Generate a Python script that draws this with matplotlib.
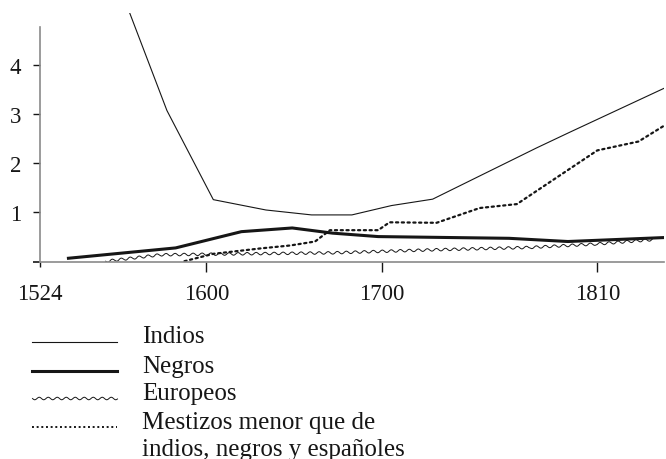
#######################################################
# imports

import numpy as np
import matplotlib
matplotlib.use('Agg')
import matplotlib.pyplot as plt
from matplotlib.lines import Line2D

#######################################################
# data (years, relative values)

indios_year = [1565, 1582, 1604, 1634, 1660, 1683, 1705, 1726, 1753, 1779, 1796, 1844]
indios_val = [5.05, 3.07, 1.26, 1.05, 0.95, 0.95, 1.14, 1.27, 1.80, 2.31, 2.63, 3.52]

negros_year = [1537, 1586, 1620, 1649, 1672, 1698, 1765, 1795, 1844]
negros_val = [0.07, 0.28, 0.61, 0.685, 0.58, 0.51, 0.475, 0.41, 0.49]

europeos_year = [1554, 1579, 1620, 1672, 1725, 1776, 1810, 1839]
europeos_val = [0.01, 0.14, 0.16, 0.18, 0.24, 0.29, 0.36, 0.45]

mestizos_year = [1590, 1604, 1631, 1648, 1662, 1670.5, 1698, 1704, 1728, 1750, 1769, 1810, 1831, 1844]
mestizos_val = [0.01, 0.16, 0.27, 0.33, 0.41, 0.64, 0.64, 0.80, 0.79, 1.09, 1.17, 2.26, 2.44, 2.76]

x_ticks = [1524, 1600, 1700, 1810]
y_ticks = [0, 1, 2, 3, 4]
y_ticklabels = ['', '1', '2', '3', '4']

legend_labels = ['Indios', 'Negros', 'Europeos',
                 'Mestizos menor que de\nindios, negros y españoles']

#######################################################
# the time axis of the original is not evenly spaced

knot_year = np.array([1400.0, 1524.0, 1600.0, 1700.0, 1810.0, 1900.0])
knot_pos = np.array([-231.3, 40.0, 206.3, 381.7, 597.3, 773.7])

def forward(x):
    return np.interp(x, knot_year, knot_pos)

def inverse(p):
    return np.interp(p, knot_pos, knot_year)

#######################################################
# plot

plt.rcParams['font.family'] = ['Liberation Serif', 'DejaVu Serif']
ink = '#161616'
axis_gray = '#8a8a8a'

fig = plt.figure(figsize=(6.66, 4.60), dpi=100)
ax = fig.add_axes([40/666, (460-262.7)/460, 624/666, (262.7-14)/460])
ax.set_xscale('function', functions=(forward, inverse))

ax.plot(indios_year, indios_val, color=ink, linewidth=0.8)
ax.plot(negros_year, negros_val, color=ink, linewidth=2.2)
eu, = ax.plot(europeos_year, europeos_val, color=ink, linewidth=0.7)
eu.set_sketch_params(scale=1.3, length=9, randomness=1)
ax.plot(mestizos_year, mestizos_val, color=ink, linewidth=1.6,
        linestyle=(0, (1, 1.6)), dash_capstyle='round')

ax.set_xlim(1524, inverse(664))
ax.set_ylim(0, 5.05)

for side in ['top', 'right']:
    ax.spines[side].set_visible(False)
for side in ['left', 'bottom']:
    ax.spines[side].set_color(axis_gray)
    ax.spines[side].set_linewidth(1.2)
ax.spines['left'].set_bounds(0, 4.77)

ax.set_xticks(x_ticks)
ax.set_xticklabels([str(v) for v in x_ticks])
ax.set_yticks(y_ticks)
ax.set_yticklabels(y_ticklabels)
ax.xaxis.set_minor_locator(matplotlib.ticker.NullLocator())

ax.tick_params(axis='x', direction='out', length=7.5, width=1.0, color=ink,
               labelsize=16.5, labelcolor=ink, pad=7.5)
ax.tick_params(axis='y', direction='out', length=5, width=1.0, color=ink,
               labelsize=16.5, labelcolor=ink, pad=8.5)
ax.xaxis.get_major_ticks()[0].tick1line.set_markersize(3.5)
ax.yaxis.get_major_ticks()[0].tick1line.set_color(axis_gray)
ax.yaxis.get_major_ticks()[0].tick1line.set_markeredgewidth(1.2)

#######################################################
# legend drawn by hand, the handle sits on the first line of text

rows_y = [343.3, 371.7, 399.3, 428.3]
base_y = [343.3, 372.7, 400.0, 430.0]
styles = [dict(linewidth=0.8), dict(linewidth=2.2), dict(linewidth=0.7),
          dict(linewidth=1.4, linestyle=(0, (1, 1.4)))]
for i, (lab, st) in enumerate(zip(legend_labels, styles)):
    yf = (460 - rows_y[i]) / 460
    ln = Line2D([32/666, 117/666], [yf, yf], transform=fig.transFigure, color=ink, **st)
    if i == 2:
        ln.set_sketch_params(scale=1.3, length=9, randomness=1)
    fig.add_artist(ln)
    # multi-line text is placed by the baseline of its last line
    by = base_y[i] + 26.0 * lab.count('\n')
    fig.text(142/666, (460 - by)/460, lab, fontsize=18, color=ink,
             ha='left', va='baseline', linespacing=1.3)

plt.savefig('out.png', dpi=100)
plt.close()
